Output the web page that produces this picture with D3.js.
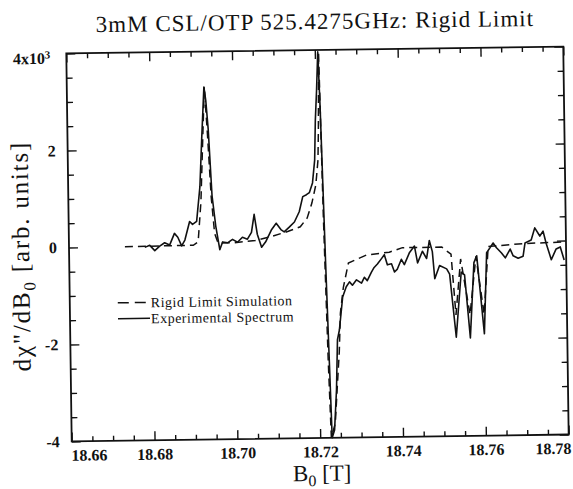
<!DOCTYPE html>
<html>
<head>
<meta charset="utf-8">
<style>
html, body { margin:0; padding:0; background:#fff; }
svg { display:block; }
text { font-family: "Liberation Serif", "Times New Roman", serif; fill:#111; }
</style>
<script src="https://d3js.org/d3.v7.min.js"></script>
</head>
<body>
<div id="chart"></div>
<script>
// rigid limit simulation (dashed), field in T
var simField = [18.6735, 18.6900, 18.6912, 18.6920, 18.6927, 18.6932, 18.6938, 18.6945, 18.6952, 18.6960,
    18.7000, 18.7050, 18.7090, 18.7130, 18.7159, 18.7176, 18.7188, 18.7198, 18.7204, 18.7206,
    18.7209, 18.7215, 18.7222, 18.7227, 18.7237, 18.7243, 18.7249, 18.7253, 18.7261, 18.7274,
    18.7318, 18.7373, 18.7405, 18.7500, 18.7522, 18.7532, 18.7545, 18.7566, 18.7582, 18.7600,
    18.7612, 18.7700, 18.7795];
var simSignal = [0, 0.01, 0.08, 0.9, 2.3, 3.27, 2.3, 1.0, 0.25, 0.05,
    0.05, 0.09, 0.17, 0.27, 0.36, 0.54, 0.85, 1.22, 1.73, 2.35,
    3.95, 0.6, -2.4, -4.0, -3.7, -2.95, -2.23, -1.43, -0.9, -0.4,
    -0.24, -0.19, -0.1, -0.1, -0.25, -1.5, -0.35, -1.5, -0.3, -1.5,
    -0.1, -0.05, -0.03];

// experimental spectrum (solid)
var expField = [18.6783, 18.6795, 18.6807, 18.6819, 18.6831, 18.6843, 18.6855, 18.6863, 18.6872, 18.6880,
    18.6892, 18.6899, 18.6909, 18.6918, 18.6924, 18.6931, 18.6935, 18.6940, 18.6947, 18.6955,
    18.6964, 18.6971, 18.6983, 18.6995, 18.7007, 18.7019, 18.7031, 18.7041, 18.7048, 18.7055,
    18.7065, 18.7075, 18.7089, 18.7101, 18.7113, 18.7120, 18.7133, 18.7145, 18.7157, 18.7166,
    18.7175, 18.7182, 18.7190, 18.7196, 18.7199, 18.7203, 18.7207, 18.7211, 18.7215, 18.7219,
    18.7224, 18.7229, 18.7235, 18.7241, 18.7245, 18.7250, 18.7259, 18.7268, 18.7276, 18.7283,
    18.7293, 18.7305, 18.7312, 18.7319, 18.7329, 18.7336, 18.7344, 18.7354, 18.7361, 18.7368,
    18.7378, 18.7385, 18.7392, 18.7402, 18.7409, 18.7422, 18.7434, 18.7441, 18.7453, 18.7463,
    18.7470, 18.7477, 18.7482, 18.7494, 18.7511, 18.7518, 18.7532, 18.7546, 18.7554, 18.7566,
    18.7577, 18.7584, 18.7600, 18.7608, 18.7617, 18.7624, 18.7632, 18.7644, 18.7653, 18.7665,
    18.7672, 18.7684, 18.7696, 18.7701, 18.7716, 18.7725, 18.7737, 18.7745, 18.7752, 18.7764,
    18.7776, 18.7786, 18.7795];
var expSignal = [-0.02, 0.02, -0.09, 0, 0.07, 0.02, 0.26, 0.18, 0, 0.12,
    0.5, 0.44, 0.5, 1.21, 2.2, 3.27, 3.0, 2.4, 1.03, 0.4,
    -0.09, 0.07, 0.05, 0.12, 0.06, 0.16, 0.12, 0.26, 0.63, 0.22,
    -0.05, 0.06, 0.3, 0.44, 0.3, 0.26, 0.36, 0.46, 0.67, 0.98,
    1.02, 1.06, 1.26, 1.73, 2.56, 3.18, 3.96, 2.8, 1.2, -0.4,
    -2.2, -4.0, -3.84, -3.01, -1.98, -1.78, -1.1, -0.89, -0.79, -0.86,
    -0.75, -0.82, -0.7, -0.77, -0.6, -0.5, -0.43, -0.32, -0.24, -0.45,
    -0.43, -0.6, -0.54, -0.34, -0.45, -0.2, -0.07, -0.42, -0.18, -0.33,
    0.04, -0.19, -0.75, -0.48, -0.55, -0.66, -1.96, -0.62, -0.68, -1.98,
    -0.43, -0.29, -1.9, -0.23, -0.12, -0.03, -0.13, -0.24, -0.34, -0.16,
    -0.3, -0.35, -0.31, -0.04, 0.02, 0.27, 0.1, 0.2, -0.05, -0.39,
    -0.17, -0.13, -0.4];

var xTickValues = [18.66, 18.68, 18.70, 18.72, 18.74, 18.76, 18.78];
var yTickValues = [-4, -2, 0, 2, 4];
var legendLabels = ['Rigid Limit Simulation', 'Experimental Spectrum'];

var width = 573, height = 489;
var svg = d3.select('#chart').append('svg')
    .attr('width', width)
    .attr('height', height);

// the scanned page sits a little crooked
var g = svg.append('g').attr('transform', 'rotate(-0.8,317,245)');

var x = d3.scaleLinear().domain([18.66, 18.78]).range([69, 566]);
var y = d3.scaleLinear().domain([-4, 4]).range([438, 50]);

var xMinor = d3.range(18.66, 18.7801, 0.005).filter(function (d) {
    return Math.abs(d * 50 - Math.round(d * 50)) > 1e-6;
});
var yMinor = d3.range(-4, 4.01, 0.5).filter(function (d) { return d % 2 !== 0; });

function styleAxis(sel) {
    sel.select('.domain').remove();
    sel.selectAll('line').attr('stroke', '#111').attr('stroke-width', 1.4);
}

// minor ticks
g.append('g').attr('transform', 'translate(0,' + y(-4) + ')')
    .call(d3.axisBottom(x).tickValues(xMinor).tickSize(-5).tickFormat(''))
    .call(styleAxis);
g.append('g').attr('transform', 'translate(0,' + y(4) + ')')
    .call(d3.axisTop(x).tickValues(xMinor).tickSize(-5).tickFormat(''))
    .call(styleAxis);
g.append('g').attr('transform', 'translate(' + x(18.66) + ',0)')
    .call(d3.axisLeft(y).tickValues(yMinor).tickSize(-6).tickFormat(''))
    .call(styleAxis);
g.append('g').attr('transform', 'translate(' + x(18.78) + ',0)')
    .call(d3.axisRight(y).tickValues(yMinor).tickSize(-6).tickFormat(''))
    .call(styleAxis);

// major ticks with labels
var bottom = g.append('g').attr('transform', 'translate(0,' + y(-4) + ')')
    .call(d3.axisBottom(x).tickValues(xTickValues).tickSize(-9).tickPadding(8)
        .tickFormat(d3.format('.2f')))
    .call(styleAxis);
bottom.selectAll('text')
    .style('font-family', '"Liberation Serif", serif')
    .style('font-size', '16px')
    .style('font-weight', 'bold')
    .attr('fill', '#111')
    .attr('dx', function (d, i) { return i === 0 ? 17 : (i === xTickValues.length - 1 ? -16 : 0); });

g.append('g').attr('transform', 'translate(0,' + y(4) + ')')
    .call(d3.axisTop(x).tickValues(xTickValues).tickSize(-9).tickFormat(''))
    .call(styleAxis);

var left = g.append('g').attr('transform', 'translate(' + x(18.66) + ',0)')
    .call(d3.axisLeft(y).tickValues(yTickValues).tickSize(-9).tickPadding(12)
        .tickFormat(function (d) { return d === 4 ? '4x10' : String(d); }))
    .call(styleAxis);
left.selectAll('text')
    .style('font-family', '"Liberation Serif", serif')
    .style('font-size', '16px')
    .style('font-weight', 'bold')
    .attr('fill', '#111');
left.selectAll('text').filter(function (d) { return d === 4; })
    .attr('dy', '0.6em')
    .append('tspan').attr('dy', '-0.5em').style('font-size', '11px').text('3');
left.selectAll('.tick').filter(function (d) { return d === 4; })
    .select('text').attr('x', -16);

g.append('g').attr('transform', 'translate(' + x(18.78) + ',0)')
    .call(d3.axisRight(y).tickValues(yTickValues).tickSize(-9).tickFormat(''))
    .call(styleAxis);

// frame
g.append('rect')
    .attr('x', x(18.66)).attr('y', y(4))
    .attr('width', x(18.78) - x(18.66)).attr('height', y(-4) - y(4))
    .attr('fill', 'none').attr('stroke', '#111').attr('stroke-width', 1.8);

g.append('clipPath').attr('id', 'plot-clip')
    .append('rect')
    .attr('x', x(18.66)).attr('y', y(4) - 1)
    .attr('width', x(18.78) - x(18.66)).attr('height', y(-4) - y(4) + 2);

var line = d3.line()
    .x(function (d) { return x(d[0]); })
    .y(function (d) { return y(d[1]); });

var plot = g.append('g').attr('clip-path', 'url(#plot-clip)');

plot.append('path')
    .datum(d3.zip(simField, simSignal))
    .attr('d', line)
    .attr('fill', 'none')
    .attr('stroke', '#111')
    .attr('stroke-width', 1.5)
    .attr('stroke-dasharray', '8,5');

plot.append('path')
    .datum(d3.zip(expField, expSignal))
    .attr('d', line)
    .attr('fill', 'none')
    .attr('stroke', '#111')
    .attr('stroke-width', 1.6)
    .attr('stroke-linejoin', 'round');

// legend
var legend = g.append('g').attr('transform', 'translate(117,300)');
legend.append('line')
    .attr('x1', 0).attr('x2', 32).attr('y1', 0).attr('y2', 0)
    .attr('stroke', '#111').attr('stroke-width', 1.5).attr('stroke-dasharray', '11,6');
legend.append('line')
    .attr('x1', 0).attr('x2', 32).attr('y1', 16).attr('y2', 16)
    .attr('stroke', '#111').attr('stroke-width', 1.5);
legend.selectAll('text.lab')
    .data(legendLabels)
    .enter().append('text')
    .attr('class', 'lab')
    .attr('x', 33)
    .attr('y', function (d, i) { return i * 16; })
    .attr('dy', '0.35em')
    .style('font-size', '14px')
    .style('letter-spacing', '0.5px')
    .text(function (d) { return d; });

// title and axis labels
g.append('text')
    .attr('x', 318).attr('y', 29)
    .attr('text-anchor', 'middle')
    .style('font-size', '23px')
    .style('letter-spacing', '1px')
    .text('3mM CSL/OTP 525.4275GHz: Rigid Limit');

var ylab = g.append('text')
    .attr('transform', 'translate(29,252) rotate(-90)')
    .attr('text-anchor', 'middle')
    .style('font-size', '25px')
    .style('letter-spacing', '1.8px');
ylab.append('tspan').text('dχ"/dB');
ylab.append('tspan').attr('dy', 6).style('font-size', '17px').text('0');
ylab.append('tspan').attr('dy', -6).text(' [arb. units]');

var xlab = g.append('text')
    .attr('x', 319).attr('y', 481)
    .attr('text-anchor', 'middle')
    .style('font-size', '23px');
xlab.append('tspan').text('B');
xlab.append('tspan').attr('dy', 5).style('font-size', '16px').text('0');
xlab.append('tspan').attr('dy', -5).text(' [T]');
</script>
</body>
</html>
